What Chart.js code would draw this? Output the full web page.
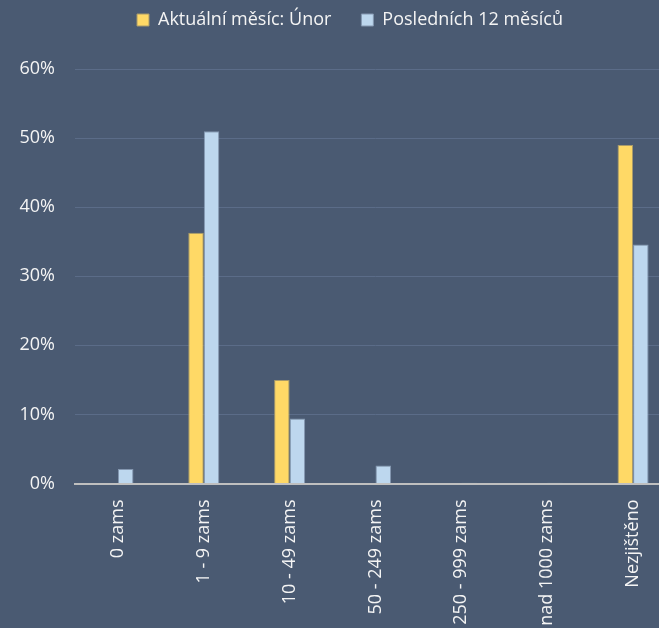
<!DOCTYPE html>
<html>
<head>
<meta charset="utf-8">
<script src="https://cdn.jsdelivr.net/npm/chart.js@4/dist/chart.umd.min.js"></script>
<style>
html,body{margin:0;padding:0;background:#4a5a72;overflow:hidden;width:659px;height:628px;}
#wrap{position:absolute;left:0;top:0;width:676px;height:628px;}
</style>
</head>
<body>
<div id="wrap"><canvas id="c"></canvas></div>
<script>
const categories = ["0 zams", "1 - 9 zams", "10 - 49 zams", "50 - 249 zams", "250 - 999 zams", "nad 1000 zams", "Nezjištěno"];
const currentMonth = [0, 36.3, 15.0, 0, 0, 0, 49.0];
const last12Months = [2.1, 51.0, 9.4, 2.6, 0.1, 0.1, 34.6];
const seriesNames = ["Aktuální měsíc: Únor", "Posledních 12 měsíců"];
const yTicks = [0, 10, 20, 30, 40, 50, 60];

const FONT = "'Open Sans', sans-serif";
const TXT = "#f4f4f4";

const legendPlugin = {
  id: 'legendTweak',
  beforeInit(chart) {
    const origFit = chart.legend.fit;
    chart.legend.fit = function () {
      origFit.call(this);
      this.height = 69;
    };
  },
  afterLayout(chart) {
    chart.legend.left += 12;
    chart.legend.right += 12;
    chart.legend.top -= 19;
    chart.legend.bottom -= 19;
  }
};

new Chart(document.getElementById('c'), {
  type: 'bar',
  data: {
    labels: categories,
    datasets: [
      { label: seriesNames[0], data: currentMonth, backgroundColor: '#FFD966', borderColor: '#a89a6a', borderWidth: 1, borderSkipped: 'bottom' },
      { label: seriesNames[1], data: last12Months, backgroundColor: '#BDD7EE', borderColor: '#8497b0', borderWidth: 1, borderSkipped: 'bottom' }
    ]
  },
  plugins: [legendPlugin],
  options: {
    responsive: true,
    maintainAspectRatio: false,
    animation: false,
    devicePixelRatio: 1,
    layout: { padding: 0 },
    datasets: { bar: { categoryPercentage: 0.362, barPercentage: 1 } },
    plugins: {
      tooltip: { enabled: false },
      legend: {
        position: 'top',
        labels: {
          color: TXT,
          font: { family: FONT, size: 18 },
          boxWidth: 12,
          boxHeight: 12,
          padding: 30
        }
      }
    },
    scales: {
      x: {
        grid: { display: false },
        border: { display: true, color: '#bfbfbf', width: 2 },
        ticks: {
          color: TXT,
          font: { family: FONT, size: 18 },
          maxRotation: 90,
          minRotation: 90,
          padding: 8,
          autoSkip: false
        },
        afterFit(scale) { scale.height = 144.5; }
      },
      y: {
        min: 0,
        max: 60,
        afterBuildTicks(scale) { scale.ticks = yTicks.map(v => ({ value: v })); },
        grid: { color: '#5b6c88', lineWidth: 1, drawTicks: false },
        border: { display: false },
        ticks: {
          color: TXT,
          font: { family: FONT, size: 18 },
          padding: 20,
          callback: v => v + '%'
        },
        afterFit(scale) { scale.width = 75; }
      }
    }
  }
});
</script>
</body>
</html>
